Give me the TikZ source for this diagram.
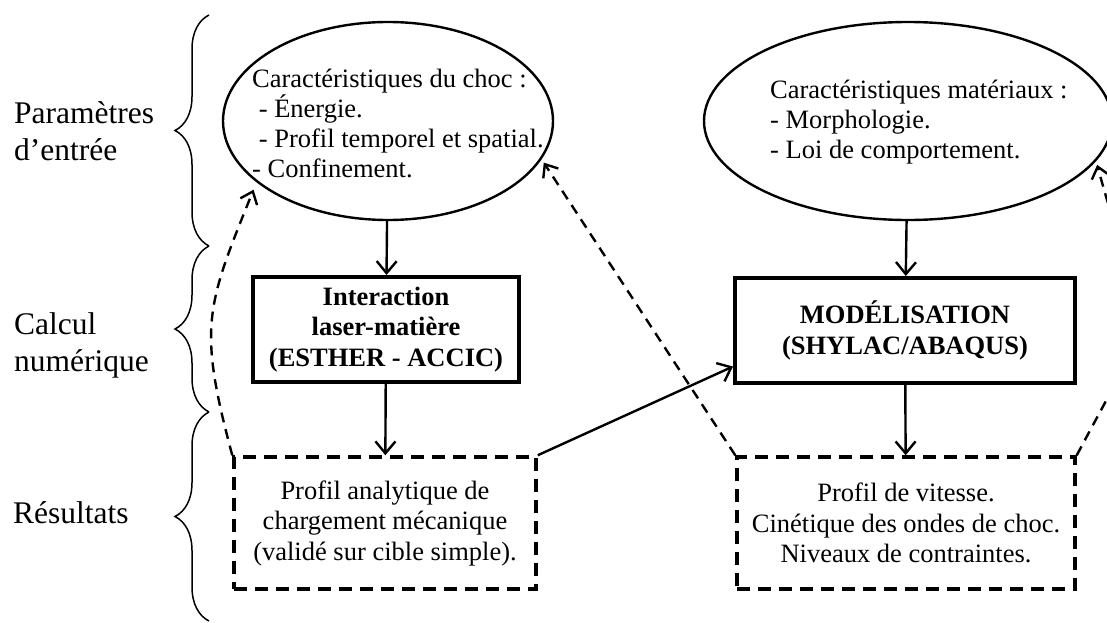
\documentclass[tikz,border=0pt]{standalone}
\usepackage{fontspec}
\setmainfont{Liberation Serif}
\usetikzlibrary{arrows.meta,positioning,shapes.geometric,decorations.pathreplacing,calc}

\begin{document}
\begin{tikzpicture}[x=1pt,y=1pt,
ellipsebox/.style={ellipse, draw, line width=2.4pt, minimum height=198pt, inner sep=0pt},
ellipsetext/.style={align=left, font=\fontsize{26.5}{29.7}\selectfont, inner sep=0pt, anchor=base west},
calcbox/.style={rectangle, draw, line width=4pt, minimum height=105pt, align=center, inner sep=0pt, font=\fontsize{26.5}{30.8}\selectfont\bfseries},
resbox/.style={rectangle, draw, line width=3.5pt, dash pattern=on 13pt off 8pt, minimum height=132pt, align=center, inner sep=0pt, font=\fontsize{26.5}{30.5}\selectfont},
stage/.style={align=left, font=\fontsize{31.5}{36.5}\selectfont, inner sep=0pt, anchor=base west},
stagebrace/.style={decorate, decoration={brace, amplitude=34pt}, line width=1.5pt},
mainarrow/.style={-{Straight Barb[length=12pt,width=20pt]}, line width=2.4pt},
backarrow/.style={-{Straight Barb[length=11pt,width=18pt]}, line width=2.4pt, dash pattern=on 10pt off 7pt}]

\clip (0,0) rectangle (1107,-623);

\node[stage] (param) at (14,-160) {Paramètres\\d’entrée};

\node[stage] (calc) at (14,-371) {Calcul\\numérique};

\node[stage] (res) at (13,-523) {Résultats};

\draw[stagebrace] (209,-246) -- (209,-15);

\draw[stagebrace] (209,-412) -- (209,-246);

\draw[stagebrace] (209,-621) -- (209,-412);

\node[ellipsebox, minimum width=330pt] (choc) at (388,-121) {};

\node[ellipsetext] (choctxt) at (252,-177) {Caractéristiques du choc :\\\ - Énergie.\\\ - Profil temporel et spatial.\\- Confinement.};

\node[ellipsebox, minimum width=408pt] (mat) at (908,-121) {};

\node[ellipsetext] (mattxt) at (770,-158) {Caractéristiques matériaux :\\- Morphologie.\\- Loi de comportement.};

\node[calcbox, minimum width=266pt] (laser) at (386,-329.5) {Interaction\\laser-matière\\(ESTHER - ACCIC)};

\node[calcbox, minimum width=340pt] (model) at (905,-330.5) {MODÉLISATION\\(SHYLAC/ABAQUS)};

\node[resbox, minimum width=302pt] (chargt) at (385,-523) {Profil analytique de\\chargement mécanique\\(validé sur cible simple).};

\node[resbox, minimum width=338pt] (vitesse) at (906,-523) {Profil de vitesse.\\Cinétique des ondes de choc.\\Niveaux de contraintes.};

\draw[mainarrow] (choc) -- (laser);

\draw[mainarrow] (laser) -- (chargt);

\draw[mainarrow] (mat) -- (model);

\draw[mainarrow] (model) -- (vitesse);

\draw[mainarrow] (chargt.north east) -- ([yshift=-36pt]model.west);

\draw[backarrow, shorten >=8pt] (chargt.north west) to[out=105, in=248, looseness=1.25] (choc.205);

\draw[backarrow, shorten >=4pt] (vitesse.north west) -- (choc.346);

\draw[backarrow, shorten >=4pt] (vitesse.north east) to[out=62, in=-75, looseness=1.7] (mat.348);

\end{tikzpicture}
\end{document}
